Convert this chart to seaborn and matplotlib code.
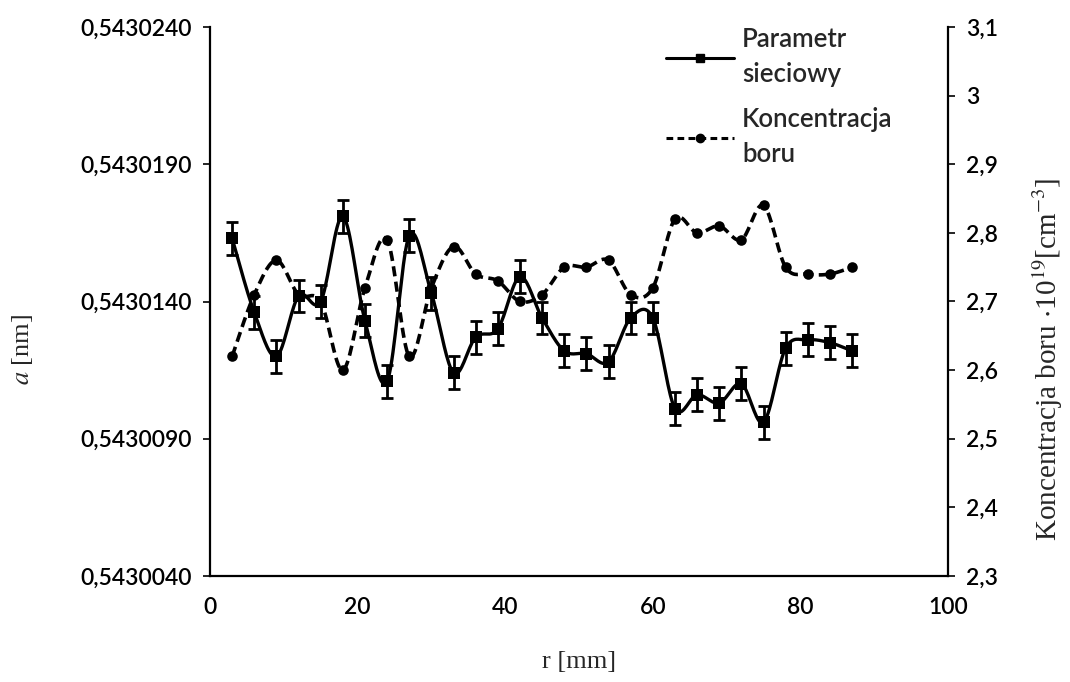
import numpy as np
import matplotlib
matplotlib.use("Agg")
import matplotlib.pyplot as plt
from matplotlib.ticker import FixedLocator, FuncFormatter
from matplotlib.lines import Line2D
import seaborn as sns

# Radial position along the wafer [mm]
r_mm = [3, 6, 9, 12, 15, 18, 21, 24, 27, 30, 33, 36, 39, 42, 45,
        48, 51, 54, 57, 60, 63, 66, 69, 72, 75, 78, 81, 84, 87]

# Lattice parameter a [nm]
lattice_a = [0.5430163, 0.5430136, 0.5430120, 0.5430142, 0.5430140,
             0.5430171, 0.5430133, 0.5430111, 0.5430164, 0.5430143,
             0.5430114, 0.5430127, 0.5430130, 0.5430149, 0.5430134,
             0.5430122, 0.5430121, 0.5430118, 0.5430134, 0.5430134,
             0.5430101, 0.5430106, 0.5430103, 0.5430110, 0.5430096,
             0.5430123, 0.5430126, 0.5430125, 0.5430122]
lattice_err = 0.0000006

# Boron concentration [1e19 cm^-3]
boron = [2.62, 2.71, 2.76, 2.71, 2.70, 2.60, 2.72, 2.79, 2.62, 2.72,
         2.78, 2.74, 2.73, 2.70, 2.71, 2.75, 2.75, 2.76, 2.71, 2.72,
         2.82, 2.80, 2.81, 2.79, 2.84, 2.75, 2.74, 2.74, 2.75]

left_ticks = [0.5430040, 0.5430090, 0.5430140, 0.5430190, 0.5430240]
right_ticks = [2.3, 2.4, 2.5, 2.6, 2.7, 2.8, 2.9, 3.0, 3.1]
x_ticks = [0, 20, 40, 60, 80, 100]

legend_labels = ["Parametr\nsieciowy", "Koncentracja\nboru"]


def smooth(x, y, n=20):
    """Smoothed polyline through the points (cubic Bezier, Catmull-Rom style)."""
    x = np.asarray(x, float)
    y = np.asarray(y, float)
    P = np.column_stack([x, y])
    out = []
    t = np.linspace(0, 1, n)[:, None]
    for i in range(len(P) - 1):
        p0 = P[i - 1] if i > 0 else P[i]
        p1 = P[i]
        p2 = P[i + 1]
        p3 = P[i + 2] if i + 2 < len(P) else P[i + 1]
        b1 = p1 + (p2 - p0) / 6.0
        b2 = p2 - (p3 - p1) / 6.0
        seg = ((1 - t) ** 3) * p1 + 3 * ((1 - t) ** 2) * t * b1 \
            + 3 * (1 - t) * t ** 2 * b2 + t ** 3 * p2
        out.append(seg if i == 0 else seg[1:])
    c = np.vstack(out)
    return c[:, 0], c[:, 1]


sns.set_theme(style="white")
plt.rcParams["font.family"] = ["Lato", "DejaVu Sans"]
plt.rcParams["mathtext.fontset"] = "stix"

fig = plt.figure(figsize=(10.7, 6.82), dpi=100)
ax = fig.add_axes([210 / 1070, 1 - 576 / 682, (948 - 210) / 1070, (576 - 27) / 682])
ax2 = ax.twinx()

# Lattice parameter: smoothed solid line, square markers, error bars
sx, sy = smooth(r_mm, lattice_a)
ax.plot(sx, sy, color="black", lw=2.4, zorder=3)
ax.errorbar(r_mm, lattice_a, yerr=lattice_err, fmt="none", ecolor="black",
            elinewidth=2.0, capsize=4.6, capthick=2.0, zorder=4)
sns.scatterplot(x=r_mm, y=lattice_a, ax=ax, marker="s", s=72, color="black",
                edgecolor="black", linewidth=0, zorder=5)

# Boron concentration: smoothed dashed line, round markers
bx, by = smooth(r_mm, boron)
ax2.plot(bx, by, color="black", lw=2.6, ls=(0, (2.8, 1.5)), zorder=3)
sns.scatterplot(x=r_mm, y=boron, ax=ax2, marker="o", s=58, color="black",
                edgecolor="black", linewidth=0, zorder=5)

ax.set_xlim(0, 100)
ax.set_ylim(left_ticks[0], left_ticks[-1])
ax2.set_ylim(right_ticks[0], right_ticks[-1])

ax.xaxis.set_major_locator(FixedLocator(x_ticks))
ax.yaxis.set_major_locator(FixedLocator(left_ticks))
ax2.yaxis.set_major_locator(FixedLocator(right_ticks))
ax.yaxis.set_major_formatter(FuncFormatter(lambda v, p: f"{v:.7f}".replace(".", ",")))
ax2.yaxis.set_major_formatter(
    FuncFormatter(lambda v, p: f"{v:.1f}".rstrip("0").rstrip(".").replace(".", ",")))

tick_font = 16.5
for a in (ax, ax2):
    a.tick_params(axis="both", which="major", labelsize=tick_font, length=5,
                  width=1.2, color="black", labelcolor="black", direction="out")
    a.spines["top"].set_visible(False)
    for s in ("left", "right", "bottom"):
        a.spines[s].set_color("black")
        a.spines[s].set_linewidth(1.6)
    for lab in a.get_xticklabels() + a.get_yticklabels():
        lab.set_fontweight("semibold")
ax.tick_params(axis="y", pad=8)
ax.tick_params(axis="x", pad=10)
ax2.tick_params(axis="y", pad=8)
ax.spines["right"].set_visible(False)
ax2.spines["left"].set_visible(False)
ax2.spines["bottom"].set_visible(False)
ax.grid(False)
ax2.grid(False)

serif = ["Liberation Serif", "DejaVu Serif"]
ax.set_xlabel("r [mm]", fontsize=19, family=serif, labelpad=24)
ax.set_ylabel(r"$\mathit{a}$ [nm]", fontsize=19, family=serif)
ax.yaxis.set_label_coords(-0.237, 0.412)
ax2.set_ylabel(r"Koncentracja boru $\cdot$10$^{19}$[cm$^{-3}$]", fontsize=21,
               family=serif)
ax2.yaxis.set_label_coords(1.112, 0.395)

handles = [
    Line2D([], [], color="black", lw=2.2, marker="s", markersize=6),
    Line2D([], [], color="black", lw=2.2, ls=(0, (2.2, 1.4)), marker="o", markersize=6),
]
leg = ax.legend(handles, legend_labels, loc="upper left",
                bbox_to_anchor=(643 / 1070, 1 - 4 / 682),
                bbox_transform=fig.transFigure, frameon=False,
                prop={"size": 18.5, "weight": "semibold"},
                handlelength=2.65, handletextpad=0.3,
                labelspacing=0.77)
for t in leg.get_texts():
    t.set_linespacing(1.5)

fig.savefig("out.png", dpi=100, facecolor="white")
